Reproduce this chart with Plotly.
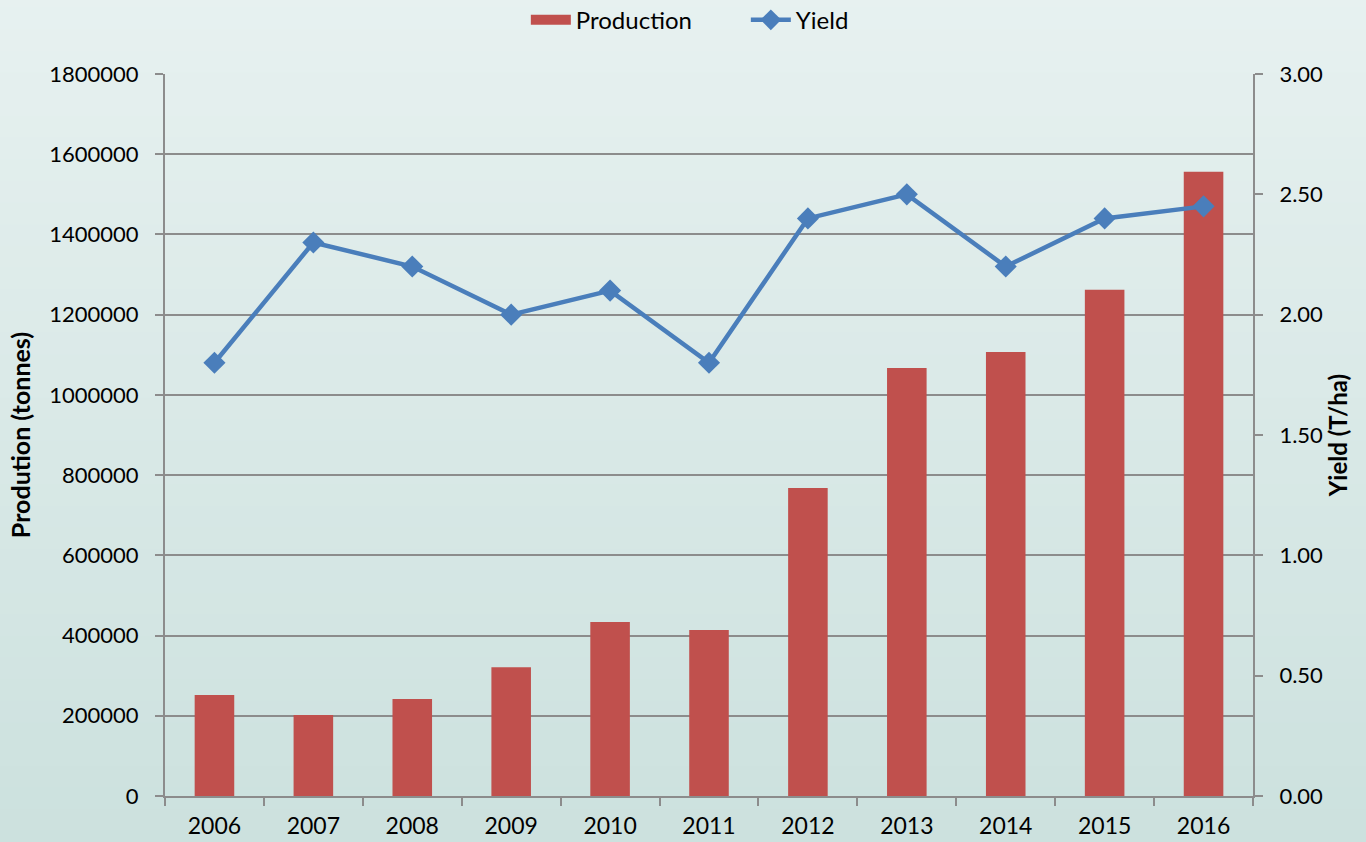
import plotly.graph_objects as go

anos = ["2006", "2007", "2008", "2009", "2010", "2011", "2012", "2013", "2014", "2015", "2016"]
producao = [252000, 202000, 242000, 321000, 434000, 414000, 768000, 1067000, 1107000, 1262000, 1556000]
rendimento = [1.80, 2.30, 2.20, 2.00, 2.10, 1.80, 2.40, 2.50, 2.20, 2.40, 2.45]

GRID = "#8c8c8c"
VERMELHO = "#c0504d"
AZUL = "#4a7ebb"
FONTE = dict(family="Lato, 'Open Sans', sans-serif", size=22, color="#000000")

fig = go.Figure()
fig.add_trace(go.Bar(
    x=anos, y=producao, name="Production", showlegend=False,
    marker=dict(color=VERMELHO, line=dict(width=0)),
))
# entrada de legenda com amostra retangular larga, como no original
fig.add_trace(go.Scatter(
    x=[None], y=[None], name="Production", mode="lines",
    line=dict(color=VERMELHO, width=14),
))
fig.add_trace(go.Scatter(
    x=anos, y=rendimento, name="Yield", yaxis="y2",
    mode="lines+markers",
    line=dict(color=AZUL, width=4.5),
    marker=dict(symbol="diamond", size=17, color=AZUL),
))

# fundo em degradê (faixas horizontais)
n = 40
topo = (231, 241, 240)
base = (204, 225, 222)
shapes = []
for i in range(n):
    t = i / (n - 1)
    c = tuple(round(topo[k] + (base[k] - topo[k]) * t) for k in range(3))
    shapes.append(dict(
        type="rect", xref="paper", yref="paper", layer="below",
        x0=-0.2, x1=1.2, y0=1.12 - (i + 1) * 1.2 / n, y1=1.12 - i * 1.2 / n + 0.002,
        fillcolor="rgb(%d,%d,%d)" % c, line=dict(width=0),
    ))

fig.update_layout(
    width=1366, height=842,
    paper_bgcolor="rgb(217,232,230)",
    plot_bgcolor="rgba(0,0,0,0)",
    font=FONTE,
    margin=dict(l=165, r=113, t=74, b=46),
    bargap=0.6,
    shapes=shapes,
    showlegend=True,
    legend=dict(orientation="h", x=0.546, xanchor="center", xref="container",
                y=0.976, yanchor="middle", yref="container", entrywidth=165,
                font=dict(size=24), bgcolor="rgba(0,0,0,0)", itemwidth=40),
    xaxis=dict(
        range=[-0.5, 10.5], automargin=False,
        showline=True, linecolor=GRID, linewidth=2,
        ticks="outside", tickson="boundaries", ticklen=8, tickcolor=GRID, tickwidth=2,
        showgrid=False, tickfont=dict(size=23), ticklabelstandoff=8,
    ),
    yaxis=dict(
        range=[0, 1800000], dtick=200000, tickformat="d",
        showline=True, linecolor=GRID, linewidth=2,
        ticks="outside", ticklen=8, tickcolor=GRID, tickwidth=2, ticklabelstandoff=12,
        showgrid=True, gridcolor=GRID, gridwidth=1.5, zeroline=False,
        title=dict(text="<b>Prodution (tonnes)</b>", font=dict(size=25), standoff=12),
        tickfont=dict(size=22),
    ),
    yaxis2=dict(
        range=[0, 3], dtick=0.5, tickformat=".2f", overlaying="y", side="right",
        showline=True, linecolor=GRID, linewidth=2,
        ticks="outside", ticklen=8, tickcolor=GRID, tickwidth=2, ticklabelstandoff=12,
        showgrid=False, zeroline=False,
        title=dict(text="<b>Yield (T/ha)</b>", font=dict(size=24), standoff=6),
        tickfont=dict(size=22),
    ),
)

fig.write_html("out.html", config={"displayModeBar": False},
               post_script="document.body.style.margin='0';")
